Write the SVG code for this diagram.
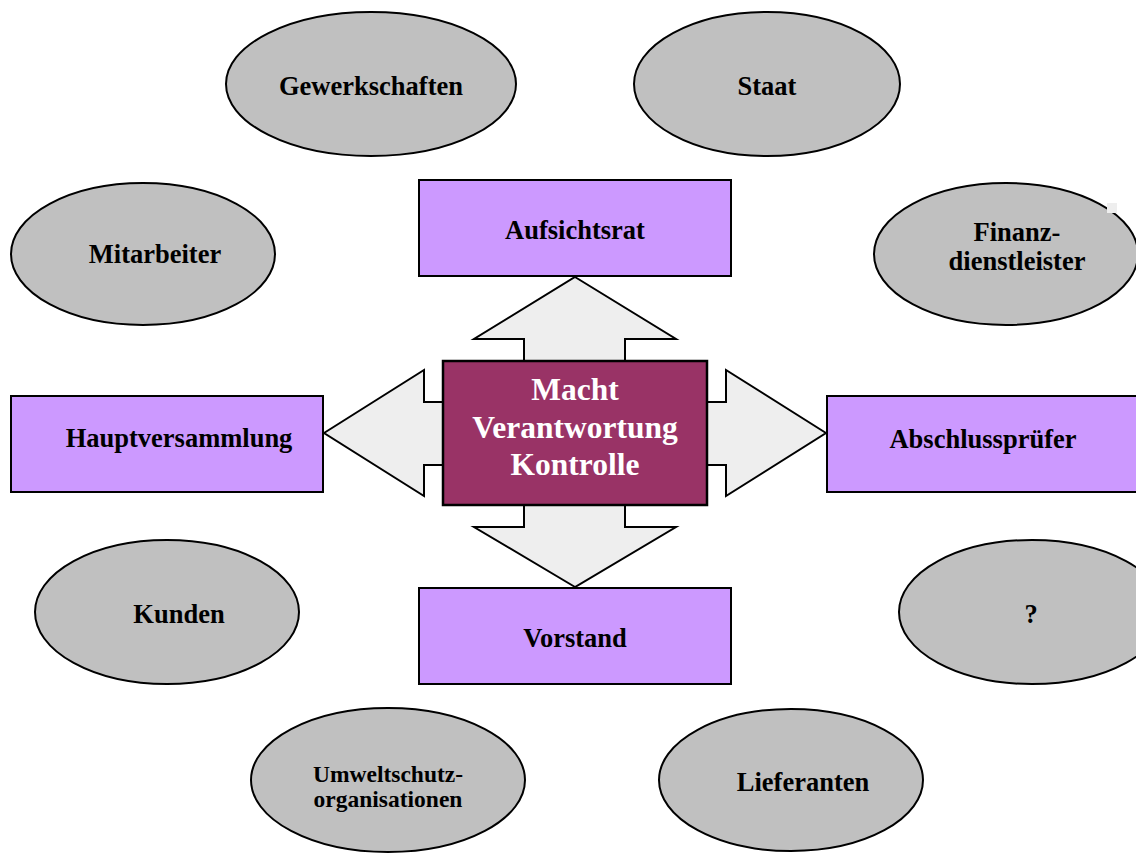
<svg xmlns="http://www.w3.org/2000/svg" width="1136" height="864" viewBox="0 0 1136 864">
<style>
.ell{fill:#c0c0c0;stroke:#000;stroke-width:2}
.box{fill:#cc99ff;stroke:#000;stroke-width:2}
.arr{fill:#eeeeee;stroke:#000;stroke-width:2;stroke-linejoin:miter}
.core{fill:#993366;stroke:#000;stroke-width:2.5}
text{font-family:"Liberation Serif","Times New Roman",serif;font-weight:bold;text-anchor:middle;fill:#000}
.t{font-size:26.5px}
.s{font-size:23.5px}
.c{font-size:31.5px;fill:#fff}
</style>
<rect width="1136" height="864" fill="#fff"/>
<g id="connectors">
<polygon class="arr" points="575,277 676,339 625,339 625,365 524,365 524,339 474,339"/>
<polygon class="arr" points="575,587 474,527 524,527 524,501 625,501 625,527 676,527"/>
<polygon class="arr" points="324,433 424,370 424,402 447,402 447,465 424,465 424,496"/>
<polygon class="arr" points="826,433 726,370 726,402 703,402 703,465 726,465 726,496"/>
</g>
<g id="gewerkschaften"><ellipse class="ell" cx="371" cy="84" rx="145" ry="72"/><text class="t" x="371" y="95">Gewerkschaften</text></g>
<g id="staat"><ellipse class="ell" cx="767" cy="84" rx="133" ry="72"/><text class="t" x="767" y="95">Staat</text></g>
<g id="mitarbeiter"><ellipse class="ell" cx="143" cy="254" rx="132" ry="71"/><text class="t" x="155" y="263">Mitarbeiter</text></g>
<g id="finanzdienstleister"><ellipse class="ell" cx="1006" cy="254" rx="132" ry="71"/><rect x="1107" y="203" width="10" height="10" fill="#eeeeee"/><text class="t" x="1017" y="241">Finanz-</text><text class="t" x="1017" y="270">dienstleister</text></g>
<g id="kunden"><ellipse class="ell" cx="167" cy="612" rx="132" ry="72"/><text class="t" x="179" y="623">Kunden</text></g>
<g id="fragezeichen"><ellipse class="ell" cx="1032" cy="612" rx="133" ry="72"/><text class="t" x="1031" y="623">?</text></g>
<g id="umweltschutz"><ellipse class="ell" cx="388" cy="780" rx="137" ry="72"/><text class="s" x="388" y="782">Umweltschutz-</text><text class="s" x="388" y="807">organisationen</text></g>
<g id="lieferanten"><ellipse class="ell" cx="791" cy="780" rx="132" ry="71"/><text class="t" x="803" y="791">Lieferanten</text></g>
<g id="aufsichtsrat"><rect class="box" x="419" y="180" width="312" height="96"/><text class="t" x="575" y="239">Aufsichtsrat</text></g>
<g id="vorstand"><rect class="box" x="419" y="588" width="312" height="96"/><text class="t" x="575" y="647">Vorstand</text></g>
<g id="hauptversammlung"><rect class="box" x="11" y="396" width="312" height="96"/><text class="t" x="179" y="447">Hauptversammlung</text></g>
<g id="abschlusspruefer"><rect class="box" x="827" y="396" width="312" height="96"/><text class="t" x="983" y="448">Abschlussprüfer</text></g>
<g id="zentrum"><rect class="core" x="443" y="361" width="264" height="144"/><text class="c" x="575" y="400">Macht</text><text class="c" x="575" y="437.5">Verantwortung</text><text class="c" x="575" y="475">Kontrolle</text></g>
</svg>
